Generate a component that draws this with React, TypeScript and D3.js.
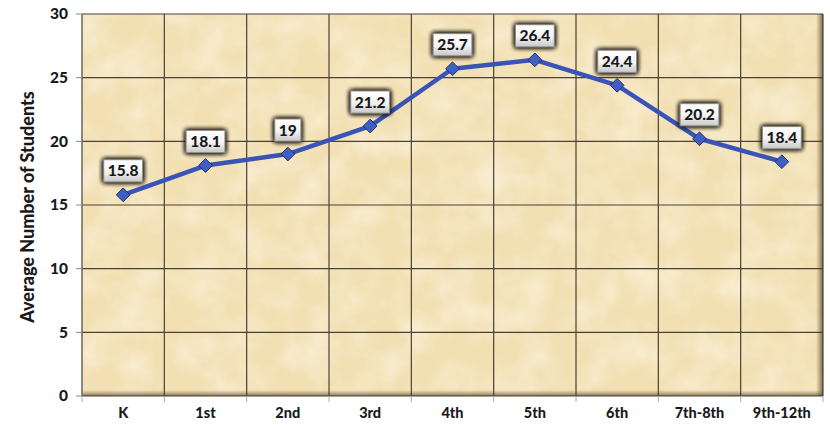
import { useEffect, useRef } from "react";
import * as d3 from "d3";

const grades = ["K", "1st", "2nd", "3rd", "4th", "5th", "6th", "7th-8th", "9th-12th"];
const avgStudents = [15.8, 18.1, 19, 21.2, 25.7, 26.4, 24.4, 20.2, 18.4];
const yTicks = [0, 5, 10, 15, 20, 25, 30];

const W = 830;
const H = 425;
const margin = { top: 14, right: 7, bottom: 29, left: 82 };
const FONT = "Lato, 'Open Sans', sans-serif";

export default function App(): JSX.Element {
  const ref = useRef<SVGSVGElement | null>(null);

  useEffect(() => {
    if (!ref.current) return;
    const svg = d3.select(ref.current);
    svg.selectAll("*").remove();

    const iw = W - margin.left - margin.right;
    const ih = H - margin.top - margin.bottom;

    const x = d3.scaleBand<string>().domain(grades).range([0, iw]);
    const y = d3.scaleLinear().domain([0, 30]).range([ih, 0]);

    const defs = svg.append("defs");

    // parchment texture: soft light blotches over a tan base
    const tex = defs.append("filter").attr("id", "paper").attr("x", 0).attr("y", 0).attr("width", 1).attr("height", 1);
    tex
      .append("feTurbulence")
      .attr("type", "fractalNoise")
      .attr("baseFrequency", 0.028)
      .attr("numOctaves", 5)
      .attr("seed", 11)
      .attr("result", "noise");
    tex
      .append("feColorMatrix")
      .attr("in", "noise")
      .attr("type", "matrix")
      .attr("values", "0 0 0 0 1  0 0 0 0 0.97  0 0 0 0 0.88  0.9 0 0 0 -0.33")
      .attr("result", "tint");
    tex.append("feComposite").attr("in", "tint").attr("in2", "SourceGraphic").attr("operator", "in");

    const edgeR = defs.append("linearGradient").attr("id", "edgeR").attr("x1", 0).attr("x2", 1);
    edgeR.append("stop").attr("offset", "0").attr("stop-color", "#7a6a4a").attr("stop-opacity", 0);
    edgeR.append("stop").attr("offset", "1").attr("stop-color", "#5e5036").attr("stop-opacity", 0.85);
    const edgeB = defs.append("linearGradient").attr("id", "edgeB").attr("x1", 0).attr("x2", 0).attr("y1", 0).attr("y2", 1);
    edgeB.append("stop").attr("offset", "0").attr("stop-color", "#7a6a4a").attr("stop-opacity", 0);
    edgeB.append("stop").attr("offset", "1").attr("stop-color", "#5e5036").attr("stop-opacity", 0.75);

    const boxGrad = defs.append("linearGradient").attr("id", "box").attr("x1", 0).attr("x2", 0).attr("y1", 0).attr("y2", 1);
    boxGrad.append("stop").attr("offset", "0").attr("stop-color", "#ffffff");
    boxGrad.append("stop").attr("offset", "0.55").attr("stop-color", "#f3f3f3");
    boxGrad.append("stop").attr("offset", "1").attr("stop-color", "#c8c8c8");

    const glow = defs.append("filter").attr("id", "glow").attr("x", "-50%").attr("y", "-60%").attr("width", "200%").attr("height", "220%");
    glow.append("feGaussianBlur").attr("in", "SourceAlpha").attr("stdDeviation", 2.6).attr("result", "b");
    glow.append("feFlood").attr("flood-color", "#2a2418").attr("flood-opacity", 1);
    glow.append("feComposite").attr("in2", "b").attr("operator", "in").attr("result", "s");
    const m = glow.append("feMerge");
    m.append("feMergeNode").attr("in", "s");
    m.append("feMergeNode").attr("in", "s");
    m.append("feMergeNode").attr("in", "s");
    m.append("feMergeNode").attr("in", "SourceGraphic");

    const g = svg.append("g").attr("transform", `translate(${margin.left},${margin.top})`);

    // plot background
    g.append("rect").attr("width", iw).attr("height", ih).attr("fill", "#f2e0b3");
    g.append("rect").attr("width", iw).attr("height", ih).attr("fill", "#f2e0b3").attr("filter", "url(#paper)");
    g.append("rect").attr("x", iw - 7).attr("width", 7).attr("height", ih).attr("fill", "url(#edgeR)");
    g.append("rect").attr("y", ih - 6).attr("width", iw).attr("height", 6).attr("fill", "url(#edgeB)");

    // gridlines
    g.selectAll("line.hg")
      .data(yTicks)
      .join("line")
      .attr("x1", 0)
      .attr("x2", iw)
      .attr("y1", (d) => y(d))
      .attr("y2", (d) => y(d))
      .attr("stroke", "#4a4132")
      .attr("stroke-width", 1.2);

    const bounds = grades.map((gr) => x(gr) as number).concat([iw]);
    g.selectAll("line.vg")
      .data(bounds)
      .join("line")
      .attr("x1", (d) => d)
      .attr("x2", (d) => d)
      .attr("y1", 0)
      .attr("y2", ih)
      .attr("stroke", "#4a4132")
      .attr("stroke-width", 1.2);

    // axes ticks
    g.selectAll("line.yt")
      .data(yTicks)
      .join("line")
      .attr("x1", -6)
      .attr("x2", 0)
      .attr("y1", (d) => y(d))
      .attr("y2", (d) => y(d))
      .attr("stroke", "#888");
    g.append("line").attr("x1", 0).attr("x2", 0).attr("y1", 0).attr("y2", ih).attr("stroke", "#888");
    g.selectAll("line.xt")
      .data(bounds)
      .join("line")
      .attr("x1", (d) => d)
      .attr("x2", (d) => d)
      .attr("y1", ih)
      .attr("y2", ih + 6)
      .attr("stroke", "#aaa");

    g.selectAll("text.yl")
      .data(yTicks)
      .join("text")
      .attr("x", -14)
      .attr("y", (d) => y(d))
      .attr("dy", "0.35em")
      .attr("text-anchor", "end")
      .attr("font-family", FONT)
      .attr("font-weight", 900)
      .attr("font-size", 15.5)
      .attr("fill", "#1a1a1a")
      .text((d) => d);

    g.selectAll("text.xl")
      .data(grades)
      .join("text")
      .attr("x", (d) => (x(d) as number) + x.bandwidth() / 2)
      .attr("y", ih + 22)
      .attr("text-anchor", "middle")
      .attr("font-family", FONT)
      .attr("font-weight", 900)
      .attr("font-size", 14.5)
      .attr("fill", "#1a1a1a")
      .text((d) => d);

    svg
      .append("text")
      .attr("transform", `translate(34,${margin.top + ih / 2 + 2}) rotate(-90)`)
      .attr("text-anchor", "middle")
      .attr("font-family", FONT)
      .attr("font-weight", 900)
      .attr("font-size", 18)
      .attr("fill", "#1a1a1a")
      .text("Average Number of Students");

    // line + markers
    const cx = (i: number) => (x(grades[i]) as number) + x.bandwidth() / 2;
    const line = d3
      .line<number>()
      .x((_, i) => cx(i))
      .y((d) => y(d));
    g.append("path")
      .datum(avgStudents)
      .attr("d", line)
      .attr("fill", "none")
      .attr("stroke", "#3953b6")
      .attr("stroke-width", 4.5)
      .attr("stroke-linejoin", "round");

    const diamond = d3.symbol().type(d3.symbolDiamond2).size(120);
    g.selectAll("path.mk")
      .data(avgStudents)
      .join("path")
      .attr("transform", (d, i) => `translate(${cx(i)},${y(d)})`)
      .attr("d", diamond)
      .attr("fill", "#3f5fc4")
      .attr("stroke", "#22306a")
      .attr("stroke-width", 1);

    // data labels
    const lbl = g
      .selectAll("g.lb")
      .data(avgStudents)
      .join("g")
      .attr("transform", (d, i) => `translate(${cx(i)},${y(d) - 24})`);
    const rects = lbl
      .append("rect")
      .attr("y", -11)
      .attr("height", 22)
      .attr("fill", "url(#box)")
      .attr("stroke", "#8a8a8a")
      .attr("stroke-width", 0.8)
      .attr("filter", "url(#glow)");
    const texts = lbl
      .append("text")
      .attr("y", 0)
      .attr("dy", "0.36em")
      .attr("text-anchor", "middle")
      .attr("font-family", FONT)
      .attr("font-weight", 900)
      .attr("font-size", 15.5)
      .attr("fill", "#1a1a1a")
      .text((d) => d);
    const widths = texts.nodes().map((n) => (n as SVGTextElement).getComputedTextLength());
    rects
      .attr("x", (_, i) => -(widths[i] / 2 + 4))
      .attr("width", (_, i) => widths[i] + 8);
  }, []);

  return (
    <svg
      ref={ref}
      width={W}
      height={H}
      style={{ position: "absolute", left: 0, top: 0, background: "#fff" }}
    />
  );
}
